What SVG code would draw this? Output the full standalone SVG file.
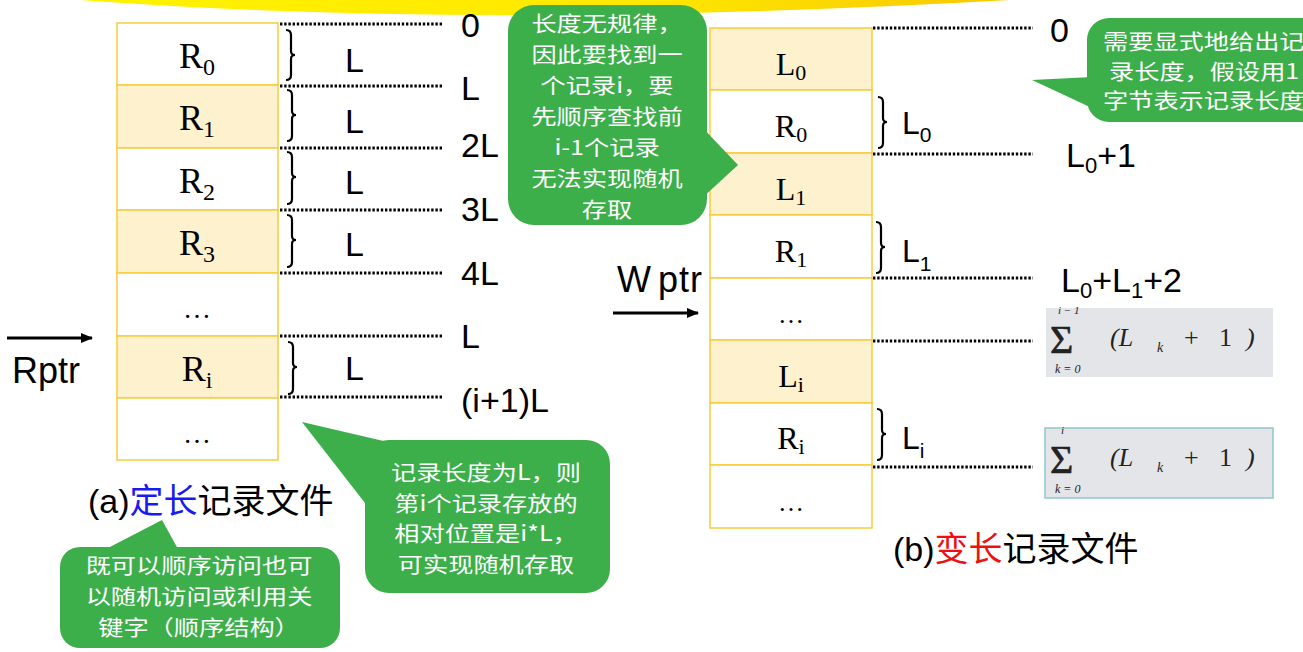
<svg xmlns="http://www.w3.org/2000/svg" width="1303" height="652" viewBox="0 0 1303 652">
<defs>
<linearGradient id="yl" x1="0" y1="0" x2="1" y2="0">
<stop offset="0" stop-color="#FFF200"/>
<stop offset="0.6" stop-color="#FFE800"/>
<stop offset="1" stop-color="#F8C800"/>
</linearGradient>
<marker id="ah" markerWidth="12" markerHeight="10" refX="11" refY="5" orient="auto" markerUnits="userSpaceOnUse">
<path d="M0,0 L12,5 L0,10 Z" fill="#000"/>
</marker>
</defs>
<style>
.cw{fill:#FFFFFF;stroke:#F7CB3C;stroke-width:1.5}
.cc{fill:#FEF1CE;stroke:#F7CB3C;stroke-width:1.5}
.rl{font-family:"Liberation Serif","Times New Roman",serif;fill:#000}
.sl{font-family:"Liberation Sans",Arial,"Noto Sans CJK SC",sans-serif;fill:#000}
.dot{stroke:#000;stroke-width:3;stroke-dasharray:2.4 1.8;fill:none}
.br{stroke:#000;stroke-width:2.2;fill:none}
.gr{fill:#3CAF4B}
.ct{font-family:"Noto Sans CJK SC","Noto Sans",sans-serif;font-size:21px;fill:#FFFFFF}
.fm{font-family:"Liberation Serif","Times New Roman",serif;fill:#222}
</style>

<path d="M80,0 Q480,30 1010,0 Z" fill="url(#yl)"/>

<!-- left table -->
<g id="left-table">
<rect class="cw" x="117" y="23" width="161" height="62"/>
<rect class="cc" x="117" y="85" width="161" height="63"/>
<rect class="cw" x="117" y="148" width="161" height="62"/>
<rect class="cc" x="117" y="210" width="161" height="63"/>
<rect class="cw" x="117" y="273" width="161" height="63"/>
<rect class="cc" x="117" y="336" width="161" height="62"/>
<rect class="cw" x="117" y="398" width="161" height="62"/>
<text class="rl" x="197" y="68" font-size="36" text-anchor="middle">R<tspan font-size="24" dy="7">0</tspan></text>
<text class="rl" x="197" y="130" font-size="36" text-anchor="middle">R<tspan font-size="24" dy="7">1</tspan></text>
<text class="rl" x="197" y="193" font-size="36" text-anchor="middle">R<tspan font-size="24" dy="7">2</tspan></text>
<text class="rl" x="197" y="255" font-size="36" text-anchor="middle">R<tspan font-size="24" dy="7">3</tspan></text>
<text class="rl" x="197" y="318" font-size="28" text-anchor="middle">…</text>
<text class="rl" x="197" y="381" font-size="36" text-anchor="middle">R<tspan font-size="24" dy="7">i</tspan></text>
<text class="rl" x="197" y="443" font-size="28" text-anchor="middle">…</text>
</g>

<!-- right table -->
<g id="right-table">
<rect class="cc" x="710" y="28" width="162" height="62"/>
<rect class="cw" x="710" y="90" width="162" height="63"/>
<rect class="cc" x="710" y="153" width="162" height="62"/>
<rect class="cw" x="710" y="215" width="162" height="63"/>
<rect class="cw" x="710" y="278" width="162" height="62"/>
<rect class="cc" x="710" y="340" width="162" height="63"/>
<rect class="cw" x="710" y="403" width="162" height="62"/>
<rect class="cw" x="710" y="465" width="162" height="63"/>
<text class="rl" x="791" y="75" font-size="32" text-anchor="middle">L<tspan font-size="22" dy="5">0</tspan></text>
<text class="rl" x="791" y="137" font-size="32" text-anchor="middle">R<tspan font-size="22" dy="5">0</tspan></text>
<text class="rl" x="791" y="200" font-size="32" text-anchor="middle">L<tspan font-size="22" dy="5">1</tspan></text>
<text class="rl" x="791" y="262" font-size="32" text-anchor="middle">R<tspan font-size="22" dy="5">1</tspan></text>
<text class="rl" x="791" y="323" font-size="26" text-anchor="middle">…</text>
<text class="rl" x="791" y="387" font-size="32" text-anchor="middle">L<tspan font-size="22" dy="5">i</tspan></text>
<text class="rl" x="791" y="449" font-size="32" text-anchor="middle">R<tspan font-size="22" dy="5">i</tspan></text>
<text class="rl" x="791" y="511" font-size="26" text-anchor="middle">…</text>
</g>

<!-- connectors: dotted offsets, braces, pointers -->
<g id="connectors">
<path class="dot" d="M280,24 H443 M280,86 H443 M280,148 H443 M280,210 H443 M280,273 H443 M280,336 H443 M280,397 H443"/>
<path class="dot" d="M873,28 H1033 M873,154 H1033 M873,278 H1033 M873,341 H1033 M873,467 H1033"/>
<path class="br" d="M286,30 Q291,30 291,35 V51 Q291,55 295,55 Q291,55 291,59 V75 Q291,80 286,80"/>
<path class="br" d="M287,90 Q292,90 292,95 V111 Q292,115 296,115 Q292,115 292,119 V136 Q292,141 287,141"/>
<path class="br" d="M287,152 Q292,152 292,157 V173 Q292,177 296,177 Q292,177 292,181 V199 Q292,204 287,204"/>
<path class="br" d="M287,215 Q292,215 292,220 V236 Q292,240 296,240 Q292,240 292,244 V262 Q292,267 287,267"/>
<path class="br" d="M288,342 Q293,342 293,347 V363 Q293,367 297,367 Q293,367 293,371 V389 Q293,394 288,394"/>
<path class="br" d="M878,97 Q883,97 883,102 V118 Q883,122 887,122 Q883,122 883,126 V143 Q883,148 878,148"/>
<path class="br" d="M876,222 Q881,222 881,227 V243 Q881,247 885,247 Q881,247 881,251 V268 Q881,273 876,273"/>
<path class="br" d="M877,409 Q882,409 882,414 V430 Q882,434 886,434 Q882,434 882,438 V455 Q882,460 877,460"/>
<line x1="7" y1="338" x2="92" y2="338" stroke="#000" stroke-width="3" marker-end="url(#ah)"/>
<line x1="613" y1="313" x2="698" y2="313" stroke="#000" stroke-width="3" marker-end="url(#ah)"/>
</g>

<!-- left labels -->
<g id="left-labels">
<text class="sl" font-size="34" x="345" y="72">L</text>
<text class="sl" font-size="34" x="345" y="133">L</text>
<text class="sl" font-size="34" x="345" y="194">L</text>
<text class="sl" font-size="34" x="345" y="256">L</text>
<text class="sl" font-size="34" x="345" y="380">L</text>
<text class="sl" font-size="34" x="461" y="37">0</text>
<text class="sl" font-size="34" x="461" y="100">L</text>
<text class="sl" font-size="34" x="461" y="157">2L</text>
<text class="sl" font-size="34" x="461" y="221">3L</text>
<text class="sl" font-size="34" x="461" y="285">4L</text>
<text class="sl" font-size="34" x="461" y="348">L</text>
<text class="sl" font-size="34" x="461" y="412">(i+1)L</text>
<text class="sl" font-size="36" x="12" y="383">Rptr</text>
<text class="sl" font-size="34" x="88" y="513">(a)<tspan fill="#1A1AF0">定长</tspan>记录文件</text>
</g>

<!-- right labels -->
<g id="right-labels">
<text class="sl" font-size="32" x="902" y="134">L<tspan font-size="21" dy="8">0</tspan></text>
<text class="sl" font-size="32" x="902" y="262">L<tspan font-size="21" dy="9">1</tspan></text>
<text class="sl" font-size="32" x="902" y="449">L<tspan font-size="21" dy="9">i</tspan></text>
<text class="sl" font-size="34" x="1050" y="42">0</text>
<text class="sl" font-size="34" x="1066" y="167">L<tspan font-size="22" dy="6">0</tspan><tspan dy="-6">+1</tspan></text>
<text class="sl" font-size="34" x="1061" y="292">L<tspan font-size="22" dy="6">0</tspan><tspan dy="-6">+L</tspan><tspan font-size="22" dy="6">1</tspan><tspan dy="-6">+2</tspan></text>
<text class="sl" font-size="36" x="617" y="292" letter-spacing="1">W<tspan dx="6">ptr</tspan></text>
<text class="sl" font-size="34" x="893" y="561">(b)<tspan fill="#EE1111">变长</tspan>记录文件</text>
</g>

<!-- formulas -->
<g id="formula-1">
<rect x="1046" y="308" width="227" height="69" fill="#E4E5E9"/>
<text class="fm" font-size="11" x="1058" y="314" font-style="italic">i − 1</text>
<text class="fm" font-size="40" x="1050" y="353" stroke="#222" stroke-width="0.6">Σ</text>
<text class="fm" font-size="12" x="1055" y="373" font-style="italic">k  =  0</text>
<text class="fm" font-size="26" x="1110" y="346" font-style="italic">(L</text>
<text class="fm" font-size="14" x="1157" y="352" font-style="italic">k</text>
<text class="fm" font-size="26" x="1184" y="346">+</text>
<text class="fm" font-size="26" x="1219" y="346">1</text>
<text class="fm" font-size="26" x="1246" y="346" font-style="italic">)</text>
</g>
<g id="formula-2">
<rect x="1045" y="428" width="228" height="70" fill="#E4E5E9" stroke="#8FC7CB" stroke-width="1.5"/>
<text class="fm" font-size="11" x="1061" y="434" font-style="italic">i</text>
<text class="fm" font-size="40" x="1050" y="473" stroke="#222" stroke-width="0.6">Σ</text>
<text class="fm" font-size="12" x="1055" y="493" font-style="italic">k  =  0</text>
<text class="fm" font-size="26" x="1110" y="466" font-style="italic">(L</text>
<text class="fm" font-size="14" x="1157" y="472" font-style="italic">k</text>
<text class="fm" font-size="26" x="1184" y="466">+</text>
<text class="fm" font-size="26" x="1219" y="466">1</text>
<text class="fm" font-size="26" x="1246" y="466" font-style="italic">)</text>
</g>

<!-- callouts -->
<g id="callout-top">
<rect class="gr" x="508" y="5" width="199" height="220" rx="26"/>
<polygon class="gr" points="700,125 738,165 700,200"/>
<g transform="translate(607,0) scale(1.2,1)">
<text class="ct" text-anchor="middle" x="0" y="31">长度无规律，</text>
<text class="ct" text-anchor="middle" x="0" y="62">因此要找到一</text>
<text class="ct" text-anchor="middle" x="0" y="93">个记录i，要</text>
<text class="ct" text-anchor="middle" x="0" y="124">先顺序查找前</text>
<text class="ct" text-anchor="middle" x="0" y="155">i-1个记录</text>
<text class="ct" text-anchor="middle" x="0" y="186">无法实现随机</text>
<text class="ct" text-anchor="middle" x="0" y="217">存取</text>
</g>
</g>
<g id="callout-fixed">
<rect class="gr" x="365" y="440" width="245" height="153" rx="24"/>
<polygon class="gr" points="302,422 405,446 372,512"/>
<g transform="translate(486,0) scale(1.2,1)">
<text class="ct" text-anchor="middle" x="0" y="480">记录长度为L，则</text>
<text class="ct" text-anchor="middle" x="0" y="511">第i个记录存放的</text>
<text class="ct" text-anchor="middle" x="0" y="541">相对位置是i*L，</text>
<text class="ct" text-anchor="middle" x="0" y="572">可实现随机存取</text>
</g>
</g>
<g id="callout-access">
<rect class="gr" x="60" y="547" width="280" height="101" rx="20"/>
<polygon class="gr" points="106,549 162,520 178,549"/>
<g transform="translate(199,0) scale(1.2,1)">
<text class="ct" text-anchor="middle" x="0" y="573">既可以顺序访问也可</text>
<text class="ct" text-anchor="middle" x="0" y="604">以随机访问或利用关</text>
<text class="ct" text-anchor="middle" x="0" y="635">键字（顺序结构）</text>
</g>
</g>
<g id="callout-length">
<rect class="gr" x="1087" y="18" width="240" height="104" rx="22"/>
<polygon class="gr" points="1032,80 1092,77 1092,108"/>
<g transform="translate(1103,0) scale(1.2,1)">
<text class="ct" x="0" y="49">需要显式地给出记</text>
<text class="ct" x="5" y="79">录长度，假设用1</text>
<text class="ct" x="0" y="108">字节表示记录长度</text>
</g>
</g>
</svg>
